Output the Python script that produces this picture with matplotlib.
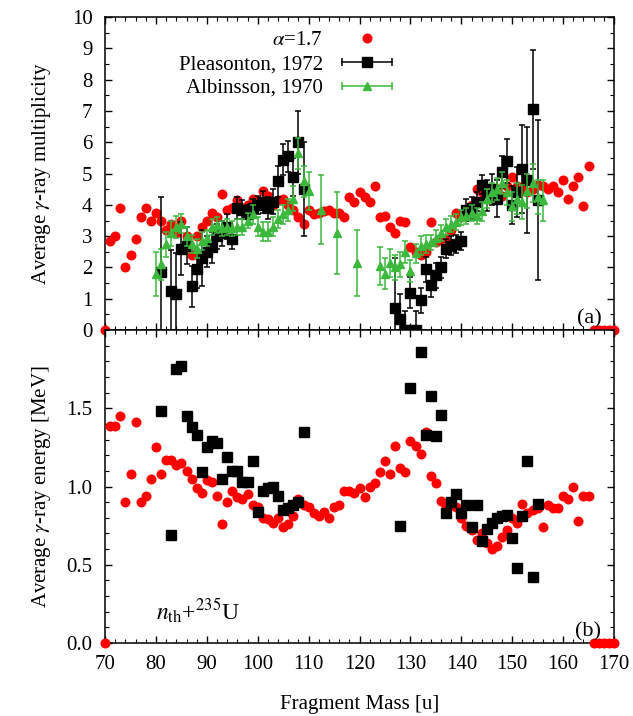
import numpy as np
import matplotlib
matplotlib.use('Agg')
import matplotlib.pyplot as plt
from matplotlib.lines import Line2D
from matplotlib.legend_handler import HandlerLine2D

plt.rcParams['font.family'] = ['Liberation Serif', 'DejaVu Serif']
plt.rcParams['mathtext.fontset'] = 'stix'
plt.rcParams['font.size'] = 15

# calculation, alpha = 1.7 (zeros outside the computed range sit on the axis)
calc_mass = np.arange(70, 171)
calc_mult = [0,
    2.85, 3.0, 3.9, 2.0, 2.4, 2.9, 3.6, 3.9, 3.5, 3.75,
    3.5, 3.2, 3.4, 3.1, 3.5, 3.0, 2.4, 3.0, 3.3, 3.5,
    3.75, 3.6, 4.35, 3.85, 3.9, 4.15, 3.9, 4.0, 4.2, 4.1,
    4.45, 4.3, 4.0, 4.15, 4.2, 4.0, 3.85, 3.6, 3.4, 3.85,
    3.7, 3.75, 3.8, 3.85, 3.75, 3.75, 3.6, 4.25, 4.1, 4.4,
    4.25, 4.1, 4.6, 3.6, 3.65, 3.3, 3.1, 3.5, 3.45, 2.65,
    2.5, 2.4, 2.5, 3.45, 2.8, 2.9, 2.95, 3.2, 3.75, 3.6,
    3.7, 4.0, 4.5, 4.4, 4.2, 4.4, 4.5, 4.3, 4.6, 4.9,
    4.6, 4.5, 4.4, 4.5, 4.65, 4.6, 4.5, 4.6, 4.4, 4.8,
    4.2, 4.6, 4.9, 3.95, 5.25, 0, 0, 0, 0, 0]
calc_energy = [0,
    1.39, 1.39, 1.45, 0.90, 1.08, 1.41, 0.90, 0.94, 1.05, 1.25,
    1.08, 1.17, 1.17, 1.14, 1.15, 1.10, 1.05, 0.99, 0.96, 1.04,
    1.03, 0.94, 0.76, 0.90, 0.97, 0.93, 0.92, 0.95, 0.88, 0.87,
    0.80, 0.79, 0.77, 0.80, 0.74, 0.76, 0.81, 0.92, 0.88, 0.87,
    0.83, 0.81, 0.84, 0.80, 0.87, 0.88, 0.97, 0.97, 0.96, 0.99,
    0.93, 1.00, 1.02, 1.09, 1.16, 1.08, 1.26, 1.12, 1.09, 1.29,
    1.26, 1.21, 1.35, 1.07, 1.02, 0.91, 0.87, 0.88, 0.87, 0.80,
    0.75, 0.72, 0.66, 0.70, 0.64, 0.60, 0.62, 0.68, 0.72, 0.80,
    0.77, 0.89, 0.83, 0.85, 0.86, 0.74, 0.88, 0.86, 0.86, 0.94,
    0.92, 1.00, 0.78, 0.94, 0.94, 0, 0, 0, 0, 0]

# Pleasonton 1972, multiplicity
pl_mass = [81, 83, 84, 85, 86, 87, 88, 89, 90, 91, 92, 93, 94, 95, 96, 97, 98, 99,
           100, 101, 102, 103, 104, 105, 106, 107, 108, 109,
           127, 128, 129, 130, 131, 132, 133, 134, 135, 136, 137, 138, 139, 140,
           141, 142, 143, 144, 145, 146, 147, 148, 149, 150, 151, 152, 153, 154, 155]
pl_mult = [1.85, 1.25, 1.15, 2.6, 2.7, 1.4, 1.95, 2.3, 2.5, 2.65, 3.0, 3.1, 3.3, 2.9,
           3.9, 3.85, 3.7, 3.9, 4.0, 4.1, 3.9, 4.1, 4.75, 5.45, 5.55, 4.9, 6.0, 4.5,
           0.7, 0.35, 0.0, 1.2, 0.0, 0.95, 1.95, 1.45, 1.75, 2.0, 2.6, 2.7, 2.75, 2.85,
           3.85, 3.9, 4.1, 4.65, 4.3, 4.5, 4.2, 5.05, 5.4, 4.0, 4.4, 5.15, 4.8, 7.05, 4.15]
pl_mult_err = [2.4, 1.3, 1.3, 0.85, 0.6, 0.65, 0.6, 0.9, 0.5, 0.5, 0.4, 0.4, 0.4, 0.3,
               0.35, 0.3, 0.3, 0.3, 0.3, 0.35, 0.35, 0.4, 0.5, 0.5, 0.5, 0.6, 1.0, 1.5,
               1.6, 0.8, 0.6, 0.5, 0.6, 0.4, 0.4, 0.4, 0.4, 0.35, 0.3, 0.3, 0.3, 0.3,
               0.35, 0.35, 0.3, 0.3, 0.5, 0.5, 0.6, 0.5, 0.7, 0.6, 0.8, 1.4, 1.7, 1.9, 2.55]

# Pleasonton 1972, average energy
ple_mass = [81, 83, 84, 85, 86, 87, 88, 89, 90, 91, 92, 93, 94, 95, 96, 97, 98, 99,
            100, 101, 102, 103, 104, 105, 106, 107, 108, 109,
            128, 130, 132, 133, 134, 135, 136, 137, 138, 139, 140,
            141, 142, 143, 144, 145, 146, 147, 148, 149, 150, 151, 152, 153, 154, 155]
ple_energy = [1.48, 0.69, 1.75, 1.77, 1.45, 1.38, 1.33, 1.09, 1.25, 1.29, 1.28, 1.05,
              1.19, 1.10, 1.10, 1.03, 1.03, 1.16, 0.84, 0.97, 0.99, 1.00, 0.94, 0.85,
              0.86, 0.88, 0.90, 1.35,
              0.75, 1.63, 1.86, 1.33, 1.58, 1.32, 1.46, 0.83, 0.90, 0.95, 0.83,
              0.88, 0.74, 0.88, 0.65, 0.73, 0.77, 0.80, 0.81, 0.82, 0.67, 0.48, 0.81,
              1.16, 0.42, 0.89]

# Albinsson 1970, multiplicity
al_mass = [80, 81, 82, 83, 84, 85, 86, 87, 88, 89, 90, 91, 92, 93, 94, 95, 96, 97, 98,
           99, 100, 101, 102, 103, 104, 105, 106, 107, 108, 109, 110, 112.5, 115.5, 119.5,
           124, 125, 126, 127, 128, 129, 130, 131, 132, 133, 134, 135, 136, 137, 138,
           139, 140, 141, 142, 143, 144, 145, 146, 147, 148, 149, 150, 151, 152, 153,
           154, 155, 156]
al_mult = [1.8, 2.1, 2.75, 3.1, 3.3, 3.4, 3.0, 2.75, 2.6, 2.85, 2.95, 3.3, 3.35, 3.25,
           3.3, 3.25, 3.3, 3.3, 3.5, 3.7, 3.3, 3.15, 3.15, 3.3, 3.55, 3.7, 3.85, 4.2,
           5.65, 4.75, 4.45, 3.85, 3.1, 2.15,
           2.05, 1.8, 2.15, 2.0, 2.1, 2.5, 1.9, 2.45, 2.7, 2.75, 2.8, 2.95, 3.1, 3.3,
           3.4, 3.45, 3.6, 3.65, 3.75, 3.65, 3.8, 4.2, 4.4, 4.5, 4.7, 4.4, 3.95, 4.2,
           4.1, 4.45, 4.7, 4.25, 4.15]
al_mult_err = [0.7, 0.5, 0.4, 0.4, 0.35, 0.3, 0.3, 0.3, 0.3, 0.3, 0.25, 0.25, 0.25,
               0.25, 0.25, 0.25, 0.25, 0.25, 0.25, 0.3, 0.3, 0.3, 0.3, 0.3, 0.3, 0.3,
               0.35, 0.4, 0.5, 0.5, 0.6, 1.1, 1.3, 1.05,
               0.6, 0.5, 0.45, 0.4, 0.4, 0.35, 0.35, 0.3, 0.3, 0.3, 0.25, 0.25, 0.25,
               0.25, 0.25, 0.25, 0.25, 0.25, 0.25, 0.25, 0.3, 0.3, 0.3, 0.35, 0.35,
               0.4, 0.45, 0.5, 0.55, 0.55, 0.6, 0.55, 0.65]

green = '#3cb83c'
ms_dot = 7.2
ms_sq = 7.2

fig, (ax1, ax2) = plt.subplots(2, 1, sharex=True, figsize=(6.33, 7.16), dpi=100)
fig.subplots_adjust(left=0.166, right=0.970, top=0.976, bottom=0.102, hspace=0)

# (a) multiplicity
ax1.plot(calc_mass, calc_mult, 'o', color='red', ms=ms_dot, mec='none',
         clip_on=False, zorder=3)
ax1.errorbar(pl_mass, pl_mult, yerr=pl_mult_err, fmt='s', color='black', ms=ms_sq,
             elinewidth=1.1, capsize=2.5, capthick=1.1, zorder=4)
ax1.errorbar(al_mass, al_mult, yerr=al_mult_err, fmt='^', color=green, ms=5.5,
             elinewidth=1.1, capsize=2.5, capthick=1.1, zorder=5)
ax1.set_ylim(0, 10)
ax1.set_yticks(range(0, 11))
ax1.set_ylabel(r'Average $\gamma$-ray multiplicity', labelpad=10)
ax1.text(0.975, 0.005, '(a)', transform=ax1.transAxes, ha='right', va='bottom',
         fontsize=16)

h_calc = Line2D([], [], ls='none', marker='o', color='red', ms=ms_dot, mec='none')
h_pl_bar = Line2D([], [], ls='-', lw=1.1, marker='|', ms=6, mew=1.1, color='black')
h_pl_pt = Line2D([], [], ls='none', marker='s', color='black', ms=ms_sq)
h_al_bar = Line2D([], [], ls='-', lw=1.1, marker='|', ms=6, mew=1.1, color=green)
h_al_pt = Line2D([], [], ls='none', marker='^', color=green, ms=5.5)
one = HandlerLine2D(numpoints=1)
two = HandlerLine2D(numpoints=2)
ax1.legend([h_calc, (h_pl_bar, h_pl_pt), (h_al_bar, h_al_pt)],
           [r'$\alpha$=1.7', 'Pleasonton, 1972', 'Albinsson, 1970'],
           handler_map={h_calc: one, h_pl_pt: one, h_al_pt: one,
                        h_pl_bar: two, h_al_bar: two},
           loc='upper center', bbox_to_anchor=(0.36, 1.0), frameon=False,
           markerfirst=False, handlelength=3.0, labelspacing=0.2,
           handletextpad=0.6, borderaxespad=0.25)

# (b) average energy
ax2.plot(calc_mass, calc_energy, 'o', color='red', ms=ms_dot, mec='none',
         clip_on=False, zorder=3)
ax2.plot(ple_mass, ple_energy, 's', color='black', ms=ms_sq, zorder=4)
ax2.set_ylim(0, 2.0)
ax2.set_yticks([0.0, 0.5, 1.0, 1.5])
ax2.set_yticklabels(['0.0', '0.5', '1.0', '1.5'])
ax2.set_ylabel(r'Average $\gamma$-ray energy [MeV]', labelpad=10)
ax2.text(0.975, 0.005, '(b)', transform=ax2.transAxes, ha='right', va='bottom',
         fontsize=16)
ax2.text(0.10, 0.055, r'$n_{\rm th}$+$^{235}$U', transform=ax2.transAxes,
         ha='left', va='bottom', fontsize=17)

ax2.set_xlim(70, 170)
ax2.set_xticks(range(70, 171, 10))
ax2.set_xlabel('Fragment Mass [u]', labelpad=15)

for ax, minor in ((ax1, 0.5), (ax2, 0.1)):
    ax.set_yticks(np.arange(0, ax.get_ylim()[1] + 1e-9, minor), minor=True)
    ax.set_xticks(range(70, 171, 2), minor=True)
    ax.tick_params(which='both', direction='in', top=True, right=True)
    ax.tick_params(which='major', length=5, width=1)
    ax.tick_params(which='minor', length=3, width=0.8)
    ax.tick_params(axis='y', which='major', pad=9)
    ax.tick_params(axis='x', which='major', pad=9)
    for s in ax.spines.values():
        s.set_linewidth(1.1)

fig.align_ylabels([ax1, ax2])
fig.savefig('out.png', dpi=100)
